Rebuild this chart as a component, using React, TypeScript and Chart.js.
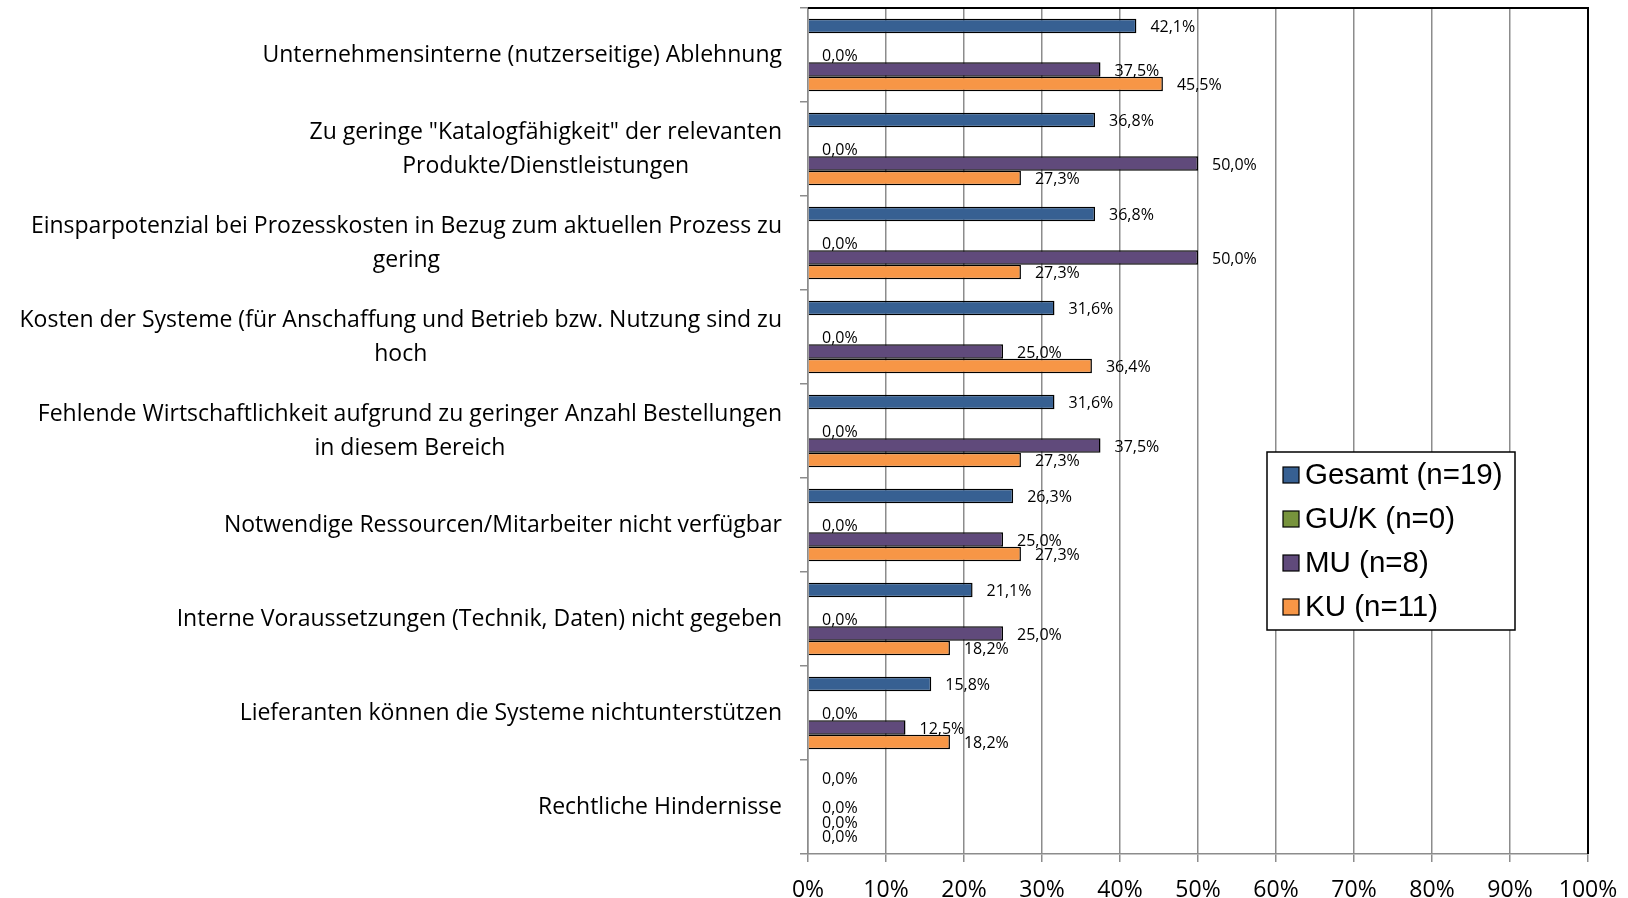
import React, { useEffect, useRef } from 'react';
import { Chart, registerables } from 'chart.js';

Chart.register(...registerables);

const categories: (string | string[])[] = [
  'Unternehmensinterne (nutzerseitige) Ablehnung',
  ['Zu geringe "Katalogfähigkeit" der relevanten', 'Produkte/Dienstleistungen'],
  ['Einsparpotenzial bei Prozesskosten in Bezug zum aktuellen Prozess zu', 'gering'],
  ['Kosten der Systeme (für Anschaffung und Betrieb bzw. Nutzung sind zu', 'hoch'],
  ['Fehlende Wirtschaftlichkeit aufgrund zu geringer Anzahl Bestellungen', 'in diesem Bereich'],
  'Notwendige Ressourcen/Mitarbeiter nicht verfügbar',
  'Interne Voraussetzungen (Technik, Daten) nicht gegeben',
  'Lieferanten können die Systeme nichtunterstützen',
  'Rechtliche Hindernisse',
];

const gesamt = [42.1, 36.8, 36.8, 31.6, 31.6, 26.3, 21.1, 15.8, 0.0];
const guk = [0.0, 0.0, 0.0, 0.0, 0.0, 0.0, 0.0, 0.0, 0.0];
const mu = [37.5, 50.0, 50.0, 25.0, 37.5, 25.0, 25.0, 12.5, 0.0];
const ku = [45.5, 27.3, 27.3, 36.4, 27.3, 27.3, 18.2, 18.2, 0.0];
const spacer = [null, null, null, null, null, null, null, null, null];

const seriesNames = ['Gesamt (n=19)', 'GU/K (n=0)', 'MU (n=8)', 'KU (n=11)'];
const seriesColors = ['#376092', '#77933C', '#604A7B', '#F79646'];

const xMin = 0;
const xMax = 100;
const xStep = 10;

const GRID = '#8c8c8c';
const fmt = (v: number) => v.toFixed(1).replace('.', ',') + '%';

const dataLabelPlugin = {
  id: 'dataLabelPlugin',
  afterDatasetsDraw(chart: any) {
    const ctx = chart.ctx;
    ctx.save();
    ctx.font = '16px "Open Sans"';
    ctx.fillStyle = '#000';
    ctx.textAlign = 'left';
    ctx.textBaseline = 'middle';
    chart.data.datasets.forEach((ds: any, di: number) => {
      if (ds.isSpacer) return;
      const meta = chart.getDatasetMeta(di);
      meta.data.forEach((el: any, i: number) => {
        const v = ds.data[i];
        if (v == null) return;
        ctx.fillText(fmt(v), el.x + 14, el.y + 1.5);
      });
    });
    ctx.restore();
  },
};

const categoryLabelPlugin = {
  id: 'categoryLabelPlugin',
  afterDraw(chart: any) {
    const ctx = chart.ctx;
    const yScale = chart.scales.y;
    const rightEdge = chart.chartArea.left - 26;
    const lineH = 34;
    ctx.save();
    ctx.font = '23px "Open Sans"';
    ctx.fillStyle = '#000';
    ctx.textAlign = 'center';
    ctx.textBaseline = 'middle';
    (chart.data.labels as any[]).forEach((lab: any, i: number) => {
      const lines: string[] = Array.isArray(lab) ? lab : [lab];
      const w = Math.max(...lines.map((l) => ctx.measureText(l).width));
      const cx = rightEdge - w / 2;
      const yc = yScale.getPixelForTick(i);
      lines.forEach((l, j) => {
        ctx.fillText(l, cx, yc + (j - (lines.length - 1) / 2) * lineH);
      });
    });
    ctx.restore();
  },
};

const framePlugin = {
  id: 'framePlugin',
  afterDatasetsDraw(chart: any) {
    const { left, right, top, bottom } = chart.chartArea;
    const ctx = chart.ctx;
    ctx.save();
    ctx.strokeStyle = '#000';
    ctx.lineWidth = 2;
    ctx.beginPath();
    ctx.moveTo(left, top);
    ctx.lineTo(right, top);
    ctx.lineTo(right, bottom);
    ctx.stroke();
    ctx.restore();
  },
};

const legendPlugin = {
  id: 'customLegend',
  afterDraw(chart: any) {
    const ctx = chart.ctx;
    const bx = 1267, by = 452, bw = 248, bh = 178;
    ctx.save();
    ctx.fillStyle = '#fff';
    ctx.fillRect(bx, by, bw, bh);
    ctx.strokeStyle = '#000';
    ctx.lineWidth = 1.5;
    ctx.strokeRect(bx, by, bw, bh);
    ctx.font = '29.5px "Liberation Sans"';
    ctx.textBaseline = 'middle';
    ctx.textAlign = 'left';
    const items = chart.data.datasets.filter((d: any) => !d.isSpacer);
    items.forEach((d: any, k: number) => {
      const yc = by + 23 + k * 44;
      ctx.fillStyle = d.backgroundColor;
      ctx.fillRect(1283, yc - 8, 16, 16);
      ctx.strokeStyle = '#000';
      ctx.lineWidth = 1.2;
      ctx.strokeRect(1283, yc - 8, 16, 16);
      ctx.fillStyle = '#000';
      ctx.fillText(d.label, 1305, yc + 1);
    });
    ctx.restore();
  },
};

export default function App() {
  const ref = useRef<HTMLCanvasElement>(null);

  useEffect(() => {
    if (!ref.current) return;
    const mk = (label: string, data: any[], color: string) => ({
      label,
      data,
      backgroundColor: color,
      borderColor: '#000',
      borderWidth: 1.5,
      barPercentage: 1.0,
      categoryPercentage: 0.772,
    });
    const datasets: any[] = [
      mk(seriesNames[0], gesamt, seriesColors[0]),
      { ...mk('', spacer, 'rgba(0,0,0,0)'), isSpacer: true, borderWidth: 0 },
      mk(seriesNames[1], guk, seriesColors[1]),
      mk(seriesNames[2], mu, seriesColors[2]),
      mk(seriesNames[3], ku, seriesColors[3]),
    ];
    const chart = new Chart(ref.current, {
      type: 'bar',
      data: { labels: categories as any, datasets },
      plugins: [dataLabelPlugin, categoryLabelPlugin, framePlugin, legendPlugin],
      options: {
        indexAxis: 'y',
        animation: false,
        responsive: false,
        devicePixelRatio: 1,
        layout: { padding: { top: 8, right: 40, bottom: 0, left: 0 } },
        plugins: { legend: { display: false }, tooltip: { enabled: false } },
        scales: {
          x: {
            min: xMin,
            max: xMax,
            ticks: {
              stepSize: xStep,
              callback: (v: any) => v + '%',
              font: { family: '"Open Sans"', size: 23 },
              color: '#000',
              padding: 15,
            },
            grid: { color: GRID, lineWidth: 1.5, tickLength: 8, drawTicks: true },
            border: { color: GRID, width: 1.5 },
            afterFit: (s: any) => { s.height = 44; s.paddingLeft = 0; s.paddingRight = 0; },
          },
          y: {
            offset: true,
            ticks: { display: false },
            grid: { color: GRID, lineWidth: 1.5, tickLength: 8, drawOnChartArea: false, offset: true },
            border: { color: GRID, width: 1.5 },
            afterFit: (s: any) => { s.width = 808; },
          },
        },
      } as any,
    });
    return () => chart.destroy();
  }, []);

  return (
    <div style={{ position: 'fixed', left: 0, top: 0, width: 1628, height: 898, background: '#fff' }}>
      <canvas ref={ref} width={1628} height={898} style={{ display: 'block' }} />
    </div>
  );
}
